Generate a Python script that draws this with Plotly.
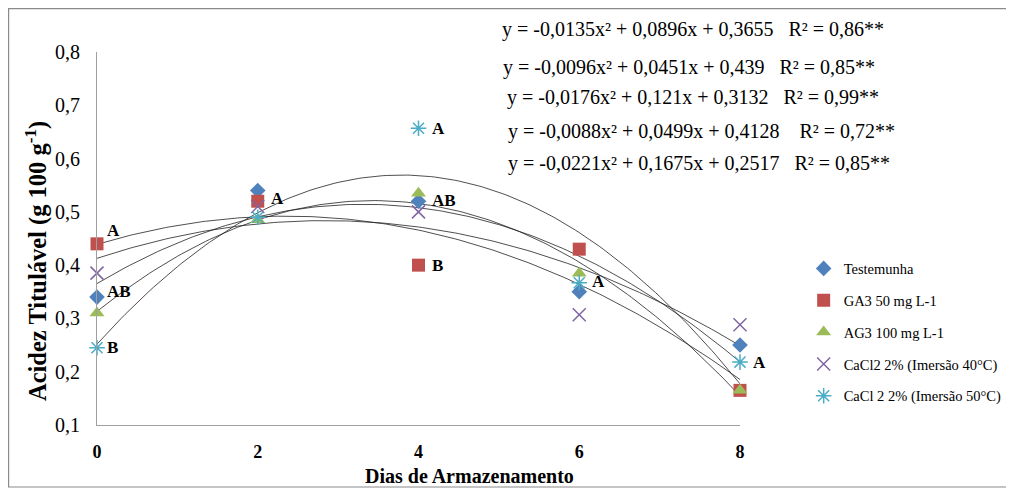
import plotly.graph_objects as go
import numpy as np

days = [0, 2, 4, 6, 8]
series_names = ["Testemunha", "GA3 50 mg L-1", "AG3 100 mg L-1",
                "CaCl2 2% (Imersão 40°C)", "CaCl 2 2% (Imersão 50°C)"]
testemunha = [0.34, 0.54, 0.52, 0.35, 0.25]
ga3_50 = [0.44, 0.52, 0.40, 0.43, 0.165]
ag3_100 = [0.31, 0.485, 0.535, 0.385, 0.165]
cacl2_40 = [0.385, 0.51, 0.50, 0.307, 0.288]
cacl2_50 = [0.245, 0.49, 0.657, 0.367, 0.218]
series_values = [testemunha, ga3_50, ag3_100, cacl2_40, cacl2_50]

# quadratic trend coefficients (a, b, c) as printed on the chart
coef_a = [-0.0135, -0.0096, -0.0176, -0.0088, -0.0221]
coef_b = [0.0896, 0.0451, 0.121, 0.0499, 0.1675]
coef_c = [0.3655, 0.439, 0.3132, 0.4128, 0.2517]
equations = [
    "y = -0,0135x² + 0,0896x + 0,3655   R² = 0,86**",
    "y = -0,0096x² + 0,0451x + 0,439   R² = 0,85**",
    "y = -0,0176x² + 0,121x + 0,3132   R² = 0,99**",
    "y = -0,0088x² + 0,0499x + 0,4128    R² = 0,72**",
    "y = -0,0221x² + 0,1675x + 0,2517   R² = 0,85**",
]
# significance letters: (day, value, text)
letter_x = [0, 0, 0, 2, 4, 4, 4, 6, 8]
letter_y = [0.465, 0.35, 0.245, 0.525, 0.657, 0.522, 0.40, 0.37, 0.218]
letter_t = ["A", "AB", "B", "A", "A", "AB", "B", "A", "A"]

colors = ["#4F81BD", "#C0504D", "#9BBB59", "#8064A2", "#4BACC6"]
symbols = ["diamond", "square", "triangle-up", "x-thin", "asterisk-open"]
sizes = [12, 13, 13, 13, 13]

FONT = "Liberation Serif"
fig = go.Figure()

xs = np.linspace(0, 8, 161)
for a, b, c in zip(coef_a, coef_b, coef_c):
    fig.add_trace(go.Scatter(x=xs, y=a * xs**2 + b * xs + c, mode="lines",
                             line=dict(color="#222222", width=0.8),
                             showlegend=False, hoverinfo="skip"))

for i, (name, vals) in enumerate(zip(series_names, series_values)):
    sym = symbols[i]
    lw = 1.5 if sym in ("x-thin", "asterisk-open") else 0
    fig.add_trace(go.Scatter(
        x=days, y=vals, mode="markers", name=name, legendgroup=f"g{i}",
        marker=dict(symbol=sym, size=sizes[i], color=colors[i],
                    line=dict(color=colors[i], width=lw)),
        cliponaxis=False))

for x, y, t in zip(letter_x, letter_y, letter_t):
    fig.add_annotation(x=x, y=y, text=f"<b>{t}</b>", showarrow=False,
                       xanchor="left", xshift=8 if x == 0 else 11, yshift=0,
                       font=dict(family=FONT, size=17, color="black"))

# left edge / vertical centre of each equation, in reference pixels
eq_y = [30, 67, 98, 131, 163]
eq_x = [500, 501, 505, 506, 506]
for txt, px, py in zip(equations, eq_x, eq_y):
    fig.add_annotation(x=(px - 97) / 643, y=(425 - py) / 373, xref="paper", yref="paper",
                       text=txt, showarrow=False, xanchor="left", yanchor="middle",
                       font=dict(family=FONT, size=20, color="black"))

# axis titles (placed off-centre as in the reference)
fig.add_annotation(x=(37 - 97) / 643, y=(425 - 261) / 373, xref="paper", yref="paper",
                   text="<b>Acidez Titulável (g 100 g<sup>-1</sup>)</b>", textangle=-90,
                   showarrow=False, xanchor="center", yanchor="middle",
                   font=dict(family=FONT, size=24.5, color="black"))
fig.add_annotation(x=(469 - 97) / 643, y=(425 - 476) / 373, xref="paper", yref="paper",
                   text="<b>Dias de Armazenamento</b>",
                   showarrow=False, xanchor="center", yanchor="middle",
                   font=dict(family=FONT, size=20, color="black"))

# outer chart border
fig.add_shape(type="rect", xref="paper", yref="paper",
              x0=(0.6 - 89) / 643, x1=(999 - 89) / 643,
              y0=(417 - 479) / 373, y1=(417 - 0.6) / 373,
              line=dict(color="#8a8a8a", width=1.2))

fig.update_layout(
    width=1006, height=483,
    margin=dict(l=89, r=274, t=44, b=66, autoexpand=False),
    paper_bgcolor="white", plot_bgcolor="white",
    separators=", ",
    font=dict(family=FONT, color="black"),
    showlegend=True,
    legend=dict(x=1.099, y=0.4626, xanchor="left", yanchor="top",
                traceorder="grouped", tracegroupgap=10,
                font=dict(family=FONT, size=14.5), itemsizing="trace",
                bgcolor="rgba(0,0,0,0)"),
    xaxis=dict(range=[0, 8], tickvals=days, showgrid=False, zeroline=False,
               showline=True, linecolor="#a0a0a0", linewidth=1,
               ticks="", ticklabelstandoff=10, automargin=False,
               tickfont=dict(family=FONT, size=18, weight="bold")),
    yaxis=dict(range=[0.1, 0.8], dtick=0.1, tickformat=".1f", showgrid=False,
               zeroline=False, showline=True, linecolor="#a0a0a0", linewidth=1,
               ticks="", ticklabelstandoff=12, automargin=False,
               tickfont=dict(family=FONT, size=20)),
)

fig.write_html("out.html")
